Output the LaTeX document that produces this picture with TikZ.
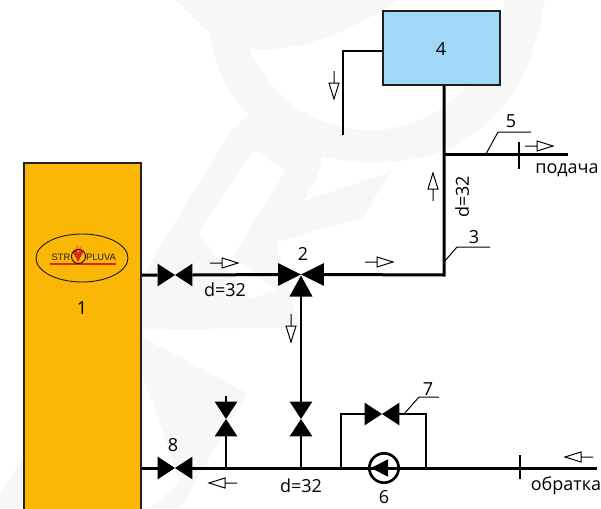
\documentclass[tikz,border=0pt]{standalone}
\usepackage{fontspec}
\setmainfont{Open Sans}
\definecolor{boilerfill}{HTML}{FBB705}
\definecolor{tankfill}{HTML}{A0D8F6}
\definecolor{darkline}{HTML}{231F20}
\definecolor{markfill}{HTML}{F7F7F7}
\definecolor{flamered}{HTML}{E2231A}
\definecolor{flameorange}{HTML}{F58220}
\tikzset{
	pipe/.style={line width=2.25pt},
	thinpipe/.style={line width=1.5pt},
	leader/.style={line width=.75pt},
	valve/.style={inner sep=0pt,minimum width=25.5pt,minimum height=16.5pt},
	lbl/.style={inner sep=0pt,font=\fontsize{13.5}{16}\selectfont},
	vessel/.style={draw=darkline,line width=1.5pt,inner sep=0pt},
}
\begin{document}
\begin{tikzpicture}[x=.75pt,y=-.75pt,line join=miter]
	\clip (0,0) rectangle (601,508);
	% faint background mark
	\fill[markfill,even odd rule] (176,0)--(209,32) .. controls (218,75) and (230,100) .. (249,113)--(230,133)--(142,277)--(142,330)--(300,327)--(276,242)--(362,218)--(391,172)--(301,202) .. controls (312,190) and (320,175) .. (322,157) .. controls (400,172) and (520,165) .. (545,0)--cycle
	(249,48) .. controls (275,110) and (330,130) .. (370,130) .. controls (430,130) and (490,90) .. (505,0)--(400,0) .. controls (350,30) and (300,55) .. (249,48)--cycle
	(198,233)--(253,150)--(286,170)--(233,257)--(276,290)--(250,300)--cycle;
	\fill[markfill] (142,337)--(247,393)--(180,508)--(150,508)--(180,483)--(142,373)--cycle (0,493)--(24,457)--(24,508)--(0,508)--cycle;
	% vessels
	\node (boiler) [vessel,fill=boilerfill,minimum width=87.75pt,minimum height=270pt] at (82.5,343){};
	\node (tank) [vessel,fill=tankfill,minimum width=87.75pt,minimum height=55.5pt] at (441.5,48){};
	% valves
	\node (vfeed) [valve] at (175,275){};
	\node (vmix) [valve,minimum width=33.75pt] at (301,274.5){};
	\node (vdrain) [valve,rotate=90] at (226,419){};
	\node (vlink) [valve,rotate=90] at (301,419){};
	\node (vpump) [valve] at (382,414){};
	\node (vreturn) [valve] at (175,468){};
	\node (pump) [circle,draw,line width=2pt,inner sep=0pt,minimum size=22pt] at (384,468){};
	% points on the lines
	\foreach \n/\x/\y in {corner/444/275,tee/444/154,feedend/568/154,retend/597/468,
		drainend/226/396,linkb/301/468,drainb/226/468,bypl/341/468,bypr/426/468,bypltop/341/414,byprtop/426/414,
		ventc/343/51,ventend/343/135,
		tkaa/519/142,tkab/519/169,tkba/520/455,tkbb/520/479,
		ldaa/444/262,ldab/457/247,ldac/490/247,ldba/486/154,ldbb/498/132,ldbc/531/132,ldca/404/414,ldcb/419/397,ldcc/439/397}
		\coordinate (\n) at (\x,\y);
	% pipes
	\draw[pipe] (boiler.east |- vfeed)--(vfeed.west) (vfeed.east)--(vmix.west) (vmix.east)--(corner)--(tee |- tank.south);
	\draw[pipe] (tee)--(feedend);
	\draw[pipe] (boiler.east |- vreturn)--(vreturn.west) (vreturn.east)--(retend);
	\draw[thinpipe] (vmix.south)--(vlink.east) (vlink.west)--(linkb) (vdrain.west)--(drainb) (vdrain.east)--(drainend);
	\draw[thinpipe] (bypl)--(bypltop)--(vpump.west) (vpump.east)--(byprtop)--(bypr);
	\draw[thinpipe] (tank.west |- ventc)--(ventc)--(ventend);
	\draw[thinpipe] (tkaa)--(tkab) (tkba)--(tkbb);
	\draw[leader] (ldaa)--(ldab)--(ldac) (ldba)--(ldbb)--(ldbc) (ldca)--(ldcb)--(ldcc);
	% valve bodies
	\foreach \v in {vfeed,vmix,vdrain,vlink,vpump,vreturn}
		\fill (\v.north west)--(\v.south east)--(\v.north east)--(\v.south west)--cycle;
	\fill (vmix.center)++(0,1)--+(-11.5,21)--+(11.5,21)--cycle;
	\fill (pump.center)++(-13,0)--+(17,-8.7)--+(17,8.7)--cycle;
	% flow arrows
	\foreach \x/\y/\a in {238/263/0,393/262/0,553/146/0,291/342/-90,334/99/-90,433/173/90,209/483/180,565/457/180}
		\draw[leader,shift={(\x,\y)},rotate=\a] (-28,0)--(-16,0) (-16,-5)--(0,0)--(-16,5)--cycle;
	% logo
	\draw[darkline,line width=.7pt] (82,258) ellipse [x radius=46,y radius=24];
	\fill[flamered] (50,262.5) rectangle (116,264.5);
	\fill[flameorange] (78,252)--(73,251)--(74,248)--(75,250)--(77,244)--(79,248)--(81,246)--(83,251)--cycle;
	\fill[flamered] (78,262)--(73,252)--(76,250)--(78,253)--(81,250)--(83,252)--cycle;
	\draw[darkline,line width=.8pt] (78.5,256.5) circle (7);
	\node (logoa) [inner sep=0pt,text=darkline,font=\fontsize{7}{8}\fontspec{Liberation Sans}] at (61,257.5) {STR};
	\node (logob) [inner sep=0pt,text=darkline,font=\fontsize{7}{8}\fontspec{Liberation Sans}] at (101,257.5) {PLUVA};
	% labels
	\node (lone) [lbl] at (82,308) {1};
	\node (ltwo) [lbl] at (303,254) {2};
	\node (lthree) [lbl] at (474,237) {3};
	\node (lfour) [lbl] at (441,49) {4};
	\node (lfive) [lbl] at (511,121) {5};
	\node (lsix) [lbl] at (384,497) {6};
	\node (lseven) [lbl] at (428,389) {7};
	\node (leight) [lbl] at (173,445) {8};
	\node (dfeed) [lbl] at (225,290) {d=32};
	\node (dreturn) [lbl] at (301,486) {d=32};
	\node (drise) [lbl,rotate=90] at (462,197) {d=32};
	\node (lsupply) [lbl] at (567,170) {подача};
	\node (lback) [lbl] at (566,486) {обратка};
\end{tikzpicture}
\end{document}
